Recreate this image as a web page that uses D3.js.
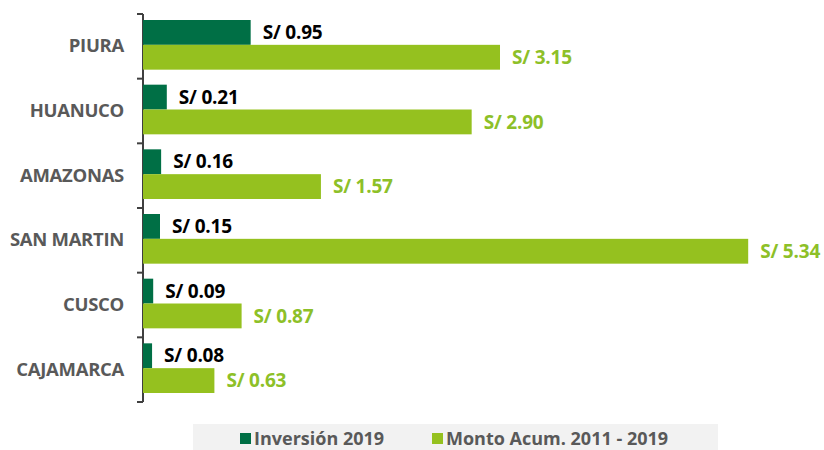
<!DOCTYPE html>
<html><head><meta charset="utf-8">
<script src="https://cdn.jsdelivr.net/npm/d3@7"></script>
<style>body{margin:0;background:#fff}svg{display:block}text{font-family:"Open Sans",sans-serif;font-weight:bold}</style>
</head><body>
<svg id="c" width="824" height="450"></svg>
<script>
const categories = ["PIURA","HUANUCO","AMAZONAS","SAN MARTIN","CUSCO","CAJAMARCA"];
const inversion2019 = [0.95,0.21,0.16,0.15,0.09,0.08];
const montoAcum = [3.15,2.90,1.57,5.34,0.87,0.63];
const seriesNames = ["Inversión 2019","Monto Acum. 2011 - 2019"];
const colors = ["#006f45","#95c11f"];
const labelColors = ["#000000","#8dc028"];

const svg = d3.select("#c");
const x = d3.scaleLinear().domain([0,6]).range([143,823]);
const y = d3.scaleBand().domain(categories).range([14,402]);
const sub = d3.scaleBand().domain([0,1]).range([6, y.bandwidth()-9]);

// axis
const ax = svg.append("g").attr("transform","translate(143,0)")
  .call(d3.axisLeft(y).tickSize(0).tickPadding(19));
ax.select(".domain").remove();
ax.selectAll("text").attr("fill","#595959").style("font-size","18.5px").style("font-family","'Open Sans',sans-serif").style("font-weight","bold").attr("letter-spacing","-0.3px");
const boundaries = d3.range(categories.length+1).map(i=>14+i*y.step());
svg.append("line").attr("x1",143).attr("x2",143).attr("y1",14).attr("y2",402).attr("stroke","#404040").attr("stroke-width",2);
svg.selectAll("line.tk").data(boundaries).join("line").attr("class","tk")
  .attr("x1",137).attr("x2",143).attr("y1",d=>d).attr("y2",d=>d).attr("stroke","#404040").attr("stroke-width",2);

const series = [inversion2019, montoAcum];
series.forEach((vals,si)=>{
  const g = svg.append("g");
  g.selectAll("rect").data(categories).join("rect")
    .attr("x",x(0)).attr("y",(d)=>y(d)+sub(si))
    .attr("width",(d,i)=>x(vals[i])-x(0)).attr("height",sub.bandwidth())
    .attr("fill",colors[si]);
  g.selectAll("text").data(categories).join("text")
    .attr("x",(d,i)=>x(vals[i])+12).attr("y",(d)=>y(d)+sub(si)+sub.bandwidth()/2)
    .attr("dy","0.35em").attr("fill",labelColors[si]).style("font-size","19px").attr("letter-spacing","-0.2px")
    .text((d,i)=>"S/ "+vals[i].toFixed(2));
});

// legend
const lg = svg.append("g");
lg.append("rect").attr("x",193).attr("y",424).attr("width",525).attr("height",26).attr("fill","#f2f2f2");
const lx = [240, 432];
seriesNames.forEach((n,i)=>{
  lg.append("rect").attr("x",lx[i]).attr("y",433).attr("width",11).attr("height",11).attr("fill",colors[i]);
  lg.append("text").attr("x",lx[i]+14).attr("y",439).attr("dy","0.35em").attr("fill","#595959").style("font-size","18px").text(n);
});
</script>
</body></html>
